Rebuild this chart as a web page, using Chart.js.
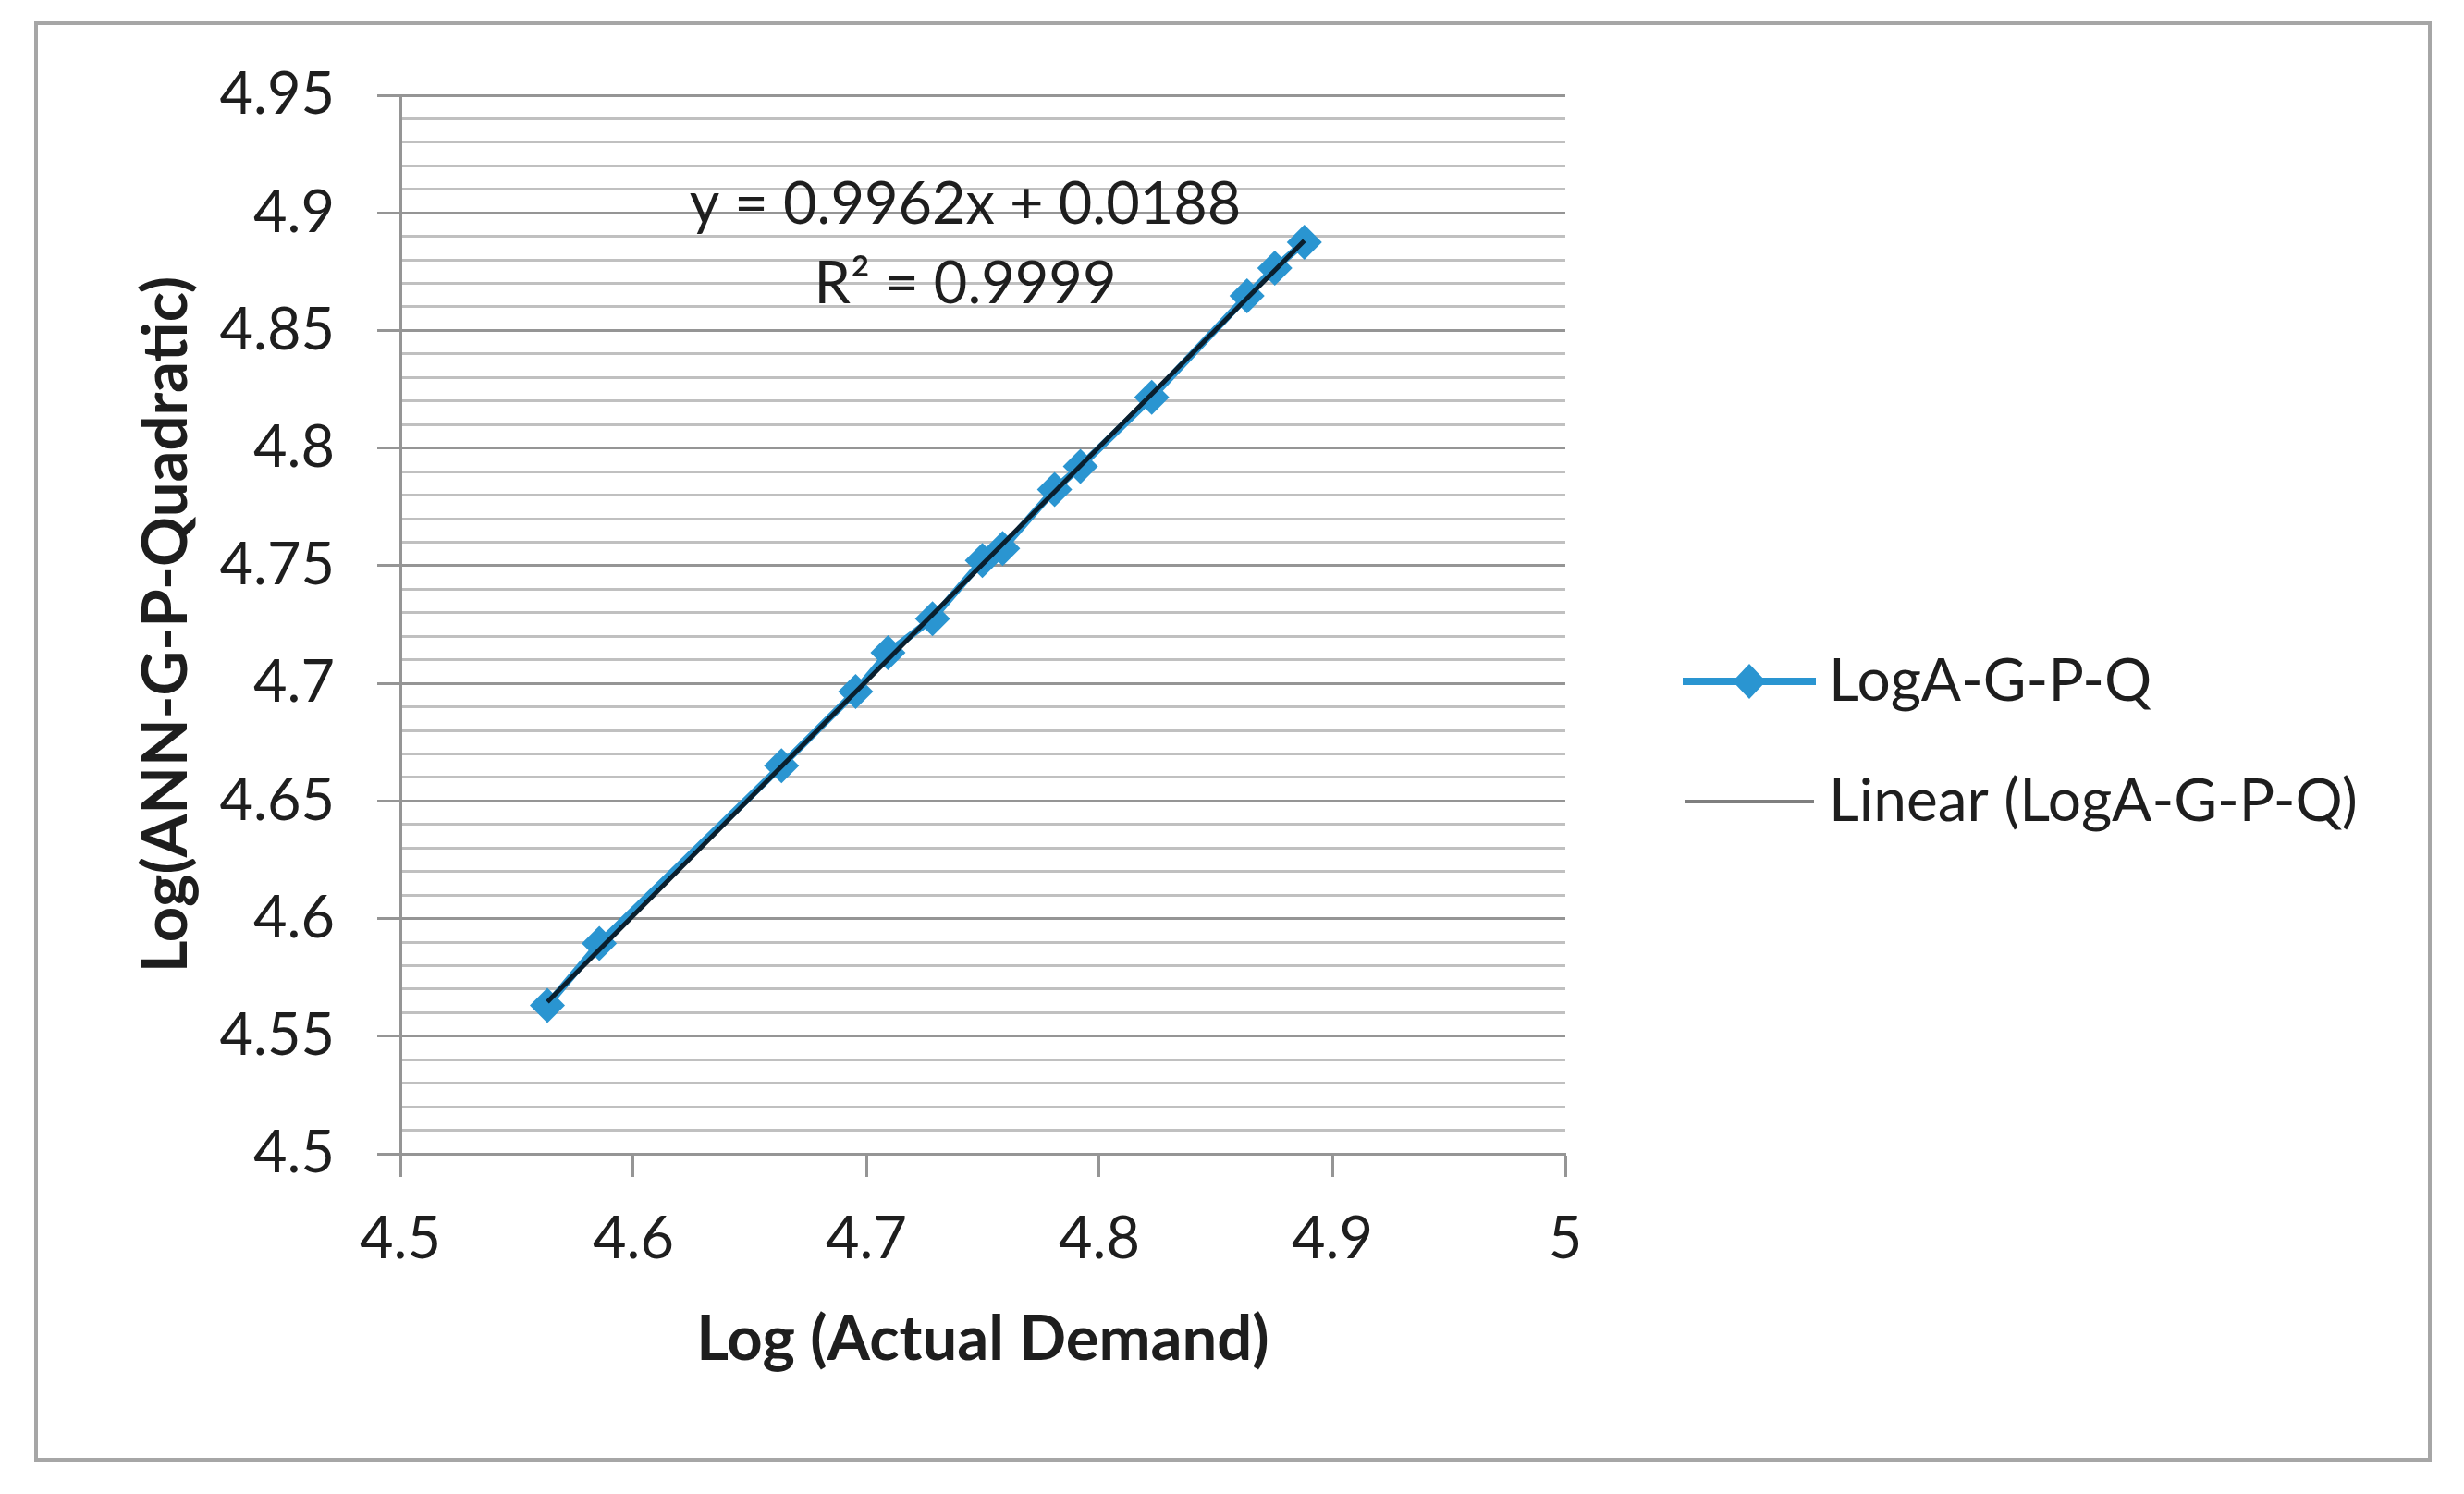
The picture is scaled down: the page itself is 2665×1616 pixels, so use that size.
<!DOCTYPE html>
<html>
<head>
<meta charset="utf-8">
<script src="https://cdn.jsdelivr.net/npm/chart.js@4.4.1/dist/chart.umd.min.js"></script>
<style>
  html, body { margin: 0; padding: 0; background: #fff; }
  canvas { display: block; }
</style>
</head>
<body>
<canvas id="chartlog" width="2665" height="1616"></canvas>
<script>
// values
const actualLog = [4.5631, 4.5854, 4.6636, 4.6954, 4.7093, 4.7284, 4.7498, 4.7585, 4.7808, 4.7919, 4.8225, 4.8634, 4.8753, 4.8880];
const annLog    = [4.5631, 4.5894, 4.6650, 4.6965, 4.7130, 4.7275, 4.7522, 4.7573, 4.7824, 4.7922, 4.8216, 4.8647, 4.8765, 4.8875];
const trendSlope = 0.9962;
const trendIntercept = 0.0188;
const trendR2 = 0.9999;
const xTickLabels = ['4.5', '4.6', '4.7', '4.8', '4.9', '5'];
const yTickLabels = ['4.5', '4.55', '4.6', '4.65', '4.7', '4.75', '4.8', '4.85', '4.9', '4.95'];
const seriesName = 'LogA-G-P-Q';
const trendName = 'Linear (LogA-G-P-Q)';

document.addEventListener('DOMContentLoaded', () => {
    const ctx = document.getElementById('chartlog');
    const blue = '#2A95D1';
    const textColor = '#1e1e1e';
    const majorGrid = '#959595';
    const minorGrid = '#c0c0c0';

    Chart.defaults.font.family = 'Lato';
    Chart.defaults.color = textColor;

    const points = actualLog.map((x, i) => ({ x: x, y: annLog[i] }));
    const xMin = Math.min(...actualLog);
    const xMax = Math.max(...actualLog);
    const trend = [xMin, xMax].map(x => ({ x: x, y: trendSlope * x + trendIntercept }));

    const isMajorY = v => Math.round(v * 100) % 5 === 0;

    // white background, outer frame, equation text and legend
    const decor = {
        id: 'decor',
        beforeDraw(chart) {
            const c = chart.ctx;
            c.save();
            c.fillStyle = '#fff';
            c.fillRect(0, 0, chart.width, chart.height);
            c.restore();
        },
        afterDraw(chart) {
            const c = chart.ctx;
            c.save();
            c.strokeStyle = '#a6a6a6';
            c.lineWidth = 4;
            c.strokeRect(39, 25, 2589, 1554);

            c.fillStyle = textColor;
            c.font = '63px Lato';
            c.textAlign = 'center';
            c.textBaseline = 'alphabetic';
            c.fillText('y = ' + trendSlope + 'x + ' + trendIntercept, 1044, 242);
            c.fillText('R² = ' + trendR2, 1044, 328);

            // legend
            c.lineCap = 'butt';
            c.strokeStyle = blue;
            c.lineWidth = 8;
            c.beginPath();
            c.moveTo(1820, 737);
            c.lineTo(1964, 737);
            c.stroke();
            c.fillStyle = blue;
            c.beginPath();
            c.moveTo(1892, 718);
            c.lineTo(1910, 737);
            c.lineTo(1892, 756);
            c.lineTo(1874, 737);
            c.closePath();
            c.fill();

            c.strokeStyle = '#7f7f7f';
            c.lineWidth = 4;
            c.beginPath();
            c.moveTo(1822, 867);
            c.lineTo(1962, 867);
            c.stroke();

            c.fillStyle = textColor;
            c.font = '64px Lato';
            c.textAlign = 'left';
            c.textBaseline = 'middle';
            c.fillText(seriesName, 1978, 737);
            c.fillText(trendName, 1978, 867);
            c.restore();
        }
    };

    new Chart(ctx, {
        type: 'scatter',
        data: {
            datasets: [
                {
                    label: trendName,
                    data: trend,
                    showLine: true,
                    borderColor: '#0a1f2e',
                    borderWidth: 5,
                    pointRadius: 0,
                    order: 0
                },
                {
                    label: seriesName,
                    data: points,
                    showLine: true,
                    borderColor: blue,
                    borderWidth: 8,
                    pointStyle: 'rectRot',
                    pointRadius: 19,
                    pointBackgroundColor: blue,
                    pointBorderWidth: 0,
                    order: 1
                }
            ]
        },
        options: {
            responsive: false,
            animation: false,
            devicePixelRatio: 1,
            layout: { padding: { top: 103, right: 972, bottom: 0, left: 0 } },
            plugins: {
                legend: { display: false },
                tooltip: { enabled: false }
            },
            scales: {
                x: {
                    type: 'linear',
                    min: 4.5,
                    max: 5,
                    afterFit: s => { s.height = 368; },
                    ticks: {
                        stepSize: 0.1,
                        padding: 30,
                        font: { size: 63 },
                        color: textColor,
                        callback: v => xTickLabels[Math.round((v - 4.5) * 10)]
                    },
                    grid: {
                        drawOnChartArea: false,
                        drawTicks: true,
                        tickLength: 25,
                        tickWidth: 3,
                        tickColor: majorGrid
                    },
                    border: { display: true, color: majorGrid, width: 3 },
                    title: {
                        display: true,
                        text: 'Log (Actual Demand)',
                        font: { size: 67, weight: 'bold' },
                        color: textColor,
                        padding: { top: 0, bottom: 126 }
                    }
                },
                y: {
                    type: 'linear',
                    min: 4.5,
                    max: 4.95,
                    afterFit: s => { s.width = 433; },
                    ticks: {
                        stepSize: 0.01,
                        autoSkip: false,
                        padding: 46,
                        font: { size: 63 },
                        color: textColor,
                        callback: v => isMajorY(v) ? yTickLabels[Math.round((v - 4.5) * 20)] : ''
                    },
                    grid: {
                        color: c => isMajorY(c.tick.value) ? majorGrid : minorGrid,
                        lineWidth: 3,
                        drawTicks: true,
                        tickLength: 25,
                        tickWidth: 3,
                        tickColor: c => isMajorY(c.tick.value) ? majorGrid : 'rgba(0,0,0,0)'
                    },
                    border: { display: true, color: majorGrid, width: 3 },
                    title: {
                        display: true,
                        text: 'Log(ANN-G-P-Quadratic)',
                        font: { size: 67, weight: 'bold' },
                        color: textColor,
                        padding: { top: 140, bottom: 0 }
                    }
                }
            }
        },
        plugins: [decor]
    });
});
</script>
</body>
</html>
